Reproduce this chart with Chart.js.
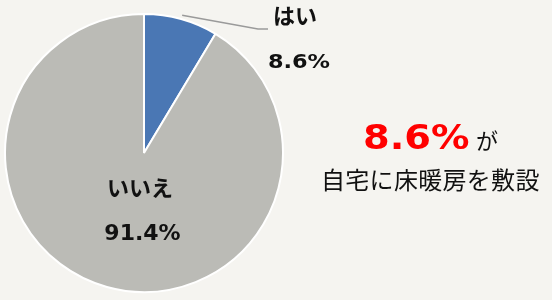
<!DOCTYPE html>
<html lang="ja">
<head>
<meta charset="utf-8">
<script src="https://cdn.jsdelivr.net/npm/chart.js@4"></script>
<style>
  html, body { margin: 0; padding: 0; background: #f5f4f0; }
  #wrap { position: relative; width: 552px; height: 300px; }
  #note span { position: absolute; line-height: 1; white-space: nowrap; color: #111; }
  #note .big { left: 363px; top: 117px; color: #ff0000; font: bold 34px "DejaVu Sans";
               transform: scaleX(1.13); transform-origin: left top; }
  #note .ga { left: 476px; top: 123px; font: 22px "Noto Sans CJK JP"; }
  #note .line2 { left: 321px; top: 161px; font: 24px "Noto Sans CJK JP"; letter-spacing: 0.3px; }
</style>
</head>
<body>
<div id="wrap">
  <canvas id="pieChart" width="552" height="300"></canvas>
  <div id="note">
    <span class="big">8.6%</span><span class="ga">が</span>
    <span class="line2">自宅に床暖房を敷設</span>
  </div>
</div>
<script>
const categories = ['はい', 'いいえ'];
const shares = [8.6, 91.4];
const sliceColors = ['#4a77b4', '#bbbbb6'];

document.addEventListener('DOMContentLoaded', () => {

    // 横に少し広げた数字（元図のフォントに近づける）
    function wideText(ctx, text, x, y, sx) {
        ctx.save();
        ctx.translate(x, y);
        ctx.scale(sx, 1);
        ctx.fillText(text, 0, 0);
        ctx.restore();
    }

    // ラベル描画（はい は外側＋引き出し線、いいえ は内側）
    const sliceLabels = {
        id: 'sliceLabels',
        afterDatasetsDraw(chart) {
            const { ctx } = chart;
            const arcs = chart.getDatasetMeta(0).data;
            ctx.save();
            ctx.fillStyle = '#111';
            ctx.textAlign = 'center';
            ctx.textBaseline = 'alphabetic';

            // はい
            const a = arcs[0];
            const mid = (a.startAngle + a.endAngle) / 2;
            const sx = a.x + Math.cos(mid) * (a.outerRadius + 4);
            const sy = a.y + Math.sin(mid) * (a.outerRadius + 4);
            ctx.strokeStyle = '#9a9a9a';
            ctx.lineWidth = 1.5;
            ctx.beginPath();
            ctx.moveTo(sx, sy);
            ctx.lineTo(258, 29);
            ctx.lineTo(268, 29);
            ctx.stroke();
            ctx.font = 'bold 22px "Noto Sans CJK JP"';
            ctx.fillText(categories[0], 295, 24);
            ctx.font = 'bold 20px "DejaVu Sans"';
            wideText(ctx, shares[0].toFixed(1) + '%', 299, 68, 1.12);

            // いいえ
            ctx.font = 'bold 22px "Noto Sans CJK JP"';
            ctx.fillText(categories[1], 140, 196);
            ctx.font = 'bold 22px "DejaVu Sans"';
            ctx.fillText(shares[1].toFixed(1) + '%', 142.5, 240);
            ctx.restore();
        }
    };

    const ctx = document.getElementById('pieChart');
    new Chart(ctx, {
        type: 'pie',
        data: {
            labels: categories,
            datasets: [{
                data: shares,
                backgroundColor: sliceColors,
                borderColor: '#ffffff',
                borderWidth: 2
            }]
        },
        options: {
            responsive: false,
            animation: false,
            layout: { padding: { left: 4, top: 13, bottom: 7, right: 268 } },
            plugins: {
                legend: { display: false },
                tooltip: { enabled: false }
            }
        },
        plugins: [sliceLabels]
    });
});
</script>
</body>
</html>
